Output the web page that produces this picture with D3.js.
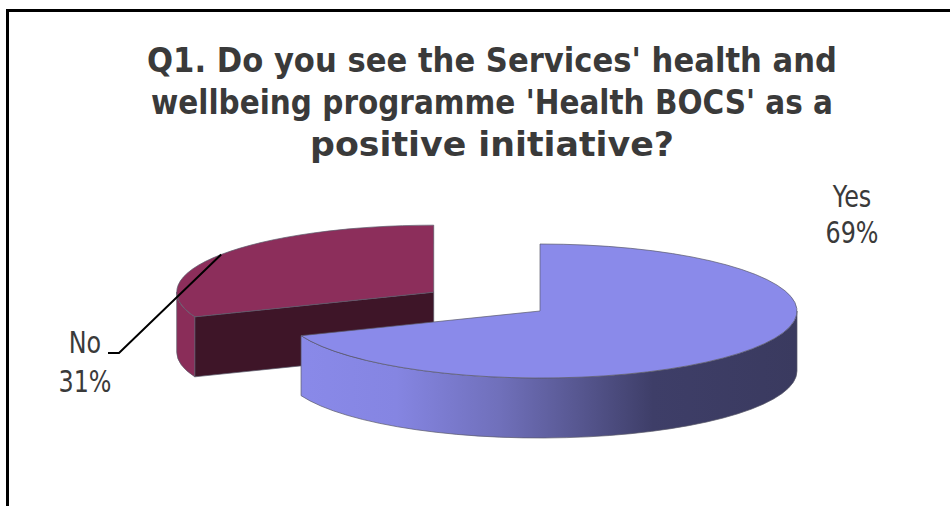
<!DOCTYPE html>
<html>
<head>
<meta charset="utf-8">
<script src="https://cdn.jsdelivr.net/npm/d3@7"></script>
<style>
  body { margin: 0; background: #fff; }
  svg { display: block; }
</style>
</head>
<body>
<svg id="chart"></svg>
<script>
// ---- data ----
const categories = ["Yes", "No"];
const values = [69, 31];
const percentLabels = ["69%", "31%"];
const titleLines = [
  "Q1. Do you see the Services' health and",
  "wellbeing programme 'Health BOCS' as a",
  "positive initiative?"
];

// ---- layout ----
const width = 950, height = 506;
const svg = d3.select("#chart").attr("width", width).attr("height", height);

const cx = 540, cy = 311;      // centre of the unexploded pie top
const rx = 257, ry = 67;       // ellipse radii of the tilted top face
const depth = 60;              // thickness of the 3D pie
const explode = [0, 0.5];      // explode fraction of radius per slice

const topColor = ["#8a8aea", "#8c2e5b"];
const sideColor = ["url(#yesSide)", "#8a2d59"];
const faceColor = ["#3a3a60", "#3e1528"];

// frame
svg.append("line").attr("x1", 6).attr("x2", width).attr("y1", 10.5).attr("y2", 10.5)
  .attr("stroke", "#000").attr("stroke-width", 3);
svg.append("line").attr("x1", 7.5).attr("x2", 7.5).attr("y1", 9).attr("y2", height)
  .attr("stroke", "#000").attr("stroke-width", 3);

// gradient for Yes outer side
const defs = svg.append("defs");
const grad = defs.append("linearGradient").attr("id", "yesSide")
  .attr("gradientUnits", "userSpaceOnUse")
  .attr("x1", cx - rx).attr("x2", cx + rx).attr("y1", 0).attr("y2", 0);
[[0, "#8a8aea"], [0.22, "#8585e2"], [0.42, "#7070bb"], [0.58, "#56568f"], [0.72, "#3e3e68"], [1, "#3a3a5f"]]
  .forEach(([o, c]) => grad.append("stop").attr("offset", o).attr("stop-color", c));

// ---- pie ----
const arcs = d3.pie().sort(null).value(d => d)(values);

arcs.forEach((a, i) => {
  const mid = (a.startAngle + a.endAngle) / 2;
  a.cx = cx + explode[i] * rx * Math.sin(mid);
  a.cy = cy - explode[i] * ry * Math.cos(mid);
});

const pt = (a, ang, dy = 0) => [a.cx + rx * Math.sin(ang), a.cy - ry * Math.cos(ang) + dy];

function topPath(a) {
  const p0 = pt(a, a.startAngle), p1 = pt(a, a.endAngle);
  const large = a.endAngle - a.startAngle > Math.PI ? 1 : 0;
  return `M${a.cx},${a.cy}L${p0}A${rx},${ry} 0 ${large} 1 ${p1}Z`;
}

function sidePath(a) {
  const a0 = Math.max(a.startAngle, Math.PI / 2), a1 = Math.min(a.endAngle, 3 * Math.PI / 2);
  if (a1 <= a0) return null;
  const large = a1 - a0 > Math.PI ? 1 : 0;
  return `M${pt(a, a0)}A${rx},${ry} 0 ${large} 1 ${pt(a, a1)}` +
         `L${pt(a, a1, depth)}A${rx},${ry} 0 ${large} 0 ${pt(a, a0, depth)}Z`;
}

function facePath(a, ang) {
  const p = pt(a, ang);
  return `M${a.cx},${a.cy}L${p}L${p[0]},${p[1] + depth}L${a.cx},${a.cy + depth}Z`;
}

// draw back slice (No) first, front slice (Yes) last
const order = [1, 0];
const g = svg.append("g");
order.forEach(i => {
  const a = arcs[i];
  const sg = g.append("g");
  if (Math.sin(a.startAngle) < -1e-6)
    sg.append("path").attr("d", facePath(a, a.startAngle)).attr("fill", faceColor[i]);
  if (Math.sin(a.endAngle) > 1e-6)
    sg.append("path").attr("d", facePath(a, a.endAngle)).attr("fill", faceColor[i]);
  const sp = sidePath(a);
  if (sp) sg.append("path").attr("d", sp).attr("fill", sideColor[i]);
  sg.append("path").attr("d", topPath(a)).attr("fill", topColor[i]);
  sg.selectAll("path").attr("stroke", "#5a5a6a").attr("stroke-width", 0.7)
    .attr("stroke-linejoin", "round");
});

// ---- title ----
const titleWidths = [690, 682, 364];
svg.append("g")
  .attr("font-family", "DejaVu Sans, sans-serif")
  .attr("font-weight", "bold")
  .attr("font-size", 33)
  .attr("fill", "#3a3a3a")
  .attr("text-anchor", "middle")
  .selectAll("text").data(titleLines).join("text")
  .attr("x", 492)
  .attr("y", (d, i) => 72 + i * 42)
  .attr("textLength", (d, i) => titleWidths[i])
  .attr("lengthAdjust", "spacingAndGlyphs")
  .text(d => d);

// ---- labels ----
const labelPos = [
  { x: 852, y: 207, dy: 36 },
  { x: 85, y: 353, dy: 39 }
];
const lab = svg.append("g")
  .attr("font-family", "DejaVu Sans, sans-serif")
  .attr("font-size", 31)
  .attr("fill", "#3a3a3a")
  .attr("text-anchor", "middle");
categories.forEach((c, i) => {
  const p = labelPos[i];
  [c, percentLabels[i]].forEach((t, k) => {
    const tx = lab.append("text").attr("x", p.x).attr("y", p.y + k * p.dy).text(t);
    const w = tx.node().getComputedTextLength();
    tx.attr("textLength", w * 0.77).attr("lengthAdjust", "spacingAndGlyphs");
  });
});

// leader line for No
const no = arcs[1];
const midNo = (no.startAngle + no.endAngle) / 2;
const lp = pt(no, midNo);
svg.append("polyline")
  .attr("points", [lp, [119, 353], [108, 353]].join(" "))
  .attr("fill", "none").attr("stroke", "#000").attr("stroke-width", 2);
</script>
</body>
</html>
